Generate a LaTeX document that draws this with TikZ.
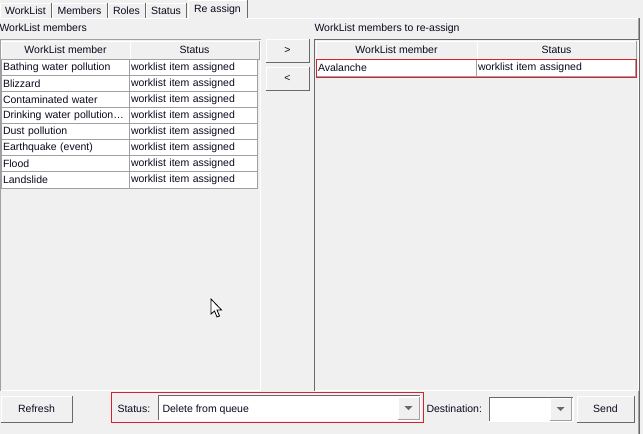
\documentclass[tikz,border=0pt]{standalone}
\usepackage{fontspec}
\setmainfont{Liberation Sans}
\usetikzlibrary{positioning}
\usepackage{xcolor}

\definecolor{winbg}{RGB}{240,240,240}
\definecolor{edgelight}{RGB}{160,160,160}
\definecolor{edgedeep}{RGB}{105,105,105}
\definecolor{gridgray}{RGB}{160,160,160}
\definecolor{selred}{RGB}{218,32,44}
\definecolor{guiink}{RGB}{10,10,30}

\newcommand{\guifont}{\fontsize{10.5}{12}\selectfont}
% bevel: top/left colour, then bottom/right colour
\newcommand{\bevel}[3]{%
	\draw[#2] (#1.south west) |- (#1.north east);
	\draw[#3] (#1.south west) -| (#1.north east);
}

\begin{document}
\begin{tikzpicture}[x=1pt, y=-1pt, line width=1pt,
	every node/.style={font=\guifont, text=guiink},
	guitext/.style={anchor=base west, inner sep=0pt},
	box/.style={anchor=north west, inner sep=0pt, minimum width=#1},
	panel/.style={box=#1, fill=winbg, minimum height=350pt},
	tab/.style={box=#1, fill=winbg, minimum height=15pt},
	hdcell/.style={box=#1, fill=winbg, minimum height=17pt},
	cell/.style={anchor=north west, draw=gridgray, fill=white, inner xsep=1.5pt,
		inner ysep=0pt, minimum height=17pt, text width=#1, align=left},
	btn/.style={box=#1, fill=winbg, minimum height=25pt},
	combo/.style={box=#1, fill=white, minimum height=24pt},
	arrowbtn/.style={box=20pt, fill=winbg, minimum height=21pt}]

	\useasboundingbox (0,0) rectangle (643,434);
	\fill[winbg] (0,0) rectangle (643,434);

	% tabs
	\node[tab=50pt] (tWork) at (0,3) {WorkList};
	\node[tab=54pt] (tMem) at (52,3) {Members};
	\node[tab=36pt] (tRole) at (108,3) {Roles};
	\node[tab=39pt] (tStat) at (146,3) {Status};
	\node[tab=58pt, minimum height=18pt] (tRe) at (188,0) {Re assign};
	\foreach \t in {tWork, tMem, tRole, tStat, tRe} {
		\draw[white] (\t.south west) |- (\t.north east);
		\draw[edgedeep] (\t.north east) -- (\t.south east);
	}
	\draw[white] (0,18.5) -- (188,18.5);
	\draw[white] (246,18.5) -- (639,18.5);
	\draw[edgelight] (638.5,18) -- (638.5,434);
	\draw[edgedeep] (639.5,18) -- (639.5,434);

	% left list
	\node[guitext] (leftTitle) at (-1,31) {WorkList members};
	\node[panel=259pt] (leftList) at (0.5,39.5) {};
	\bevel{leftList}{edgelight}{white}
	\node[hdcell=128pt] (hdMem) at (1,41) {WorkList member};
	\node[hdcell=128pt] (hdStat) at (130,41) {Status};
	\bevel{hdMem}{white}{edgelight}
	\bevel{hdStat}{white}{edgelight}
	\foreach \name [count=\i from 0] in {Bathing water pollution, Blizzard,
		Contaminated water, Drinking water pollution…, Dust pollution,
		Earthquake (event), Flood, Landslide} {
		\node[cell=125pt] (m\i) at (1,{59+16*\i}) {\name};
		\node[cell=125pt] (s\i) at (129,{59+16*\i}) {worklist item assigned};
	}

	% move buttons
	\node[btn=42pt, minimum height=22pt] (toRight) at (266,39) {>};
	\node[btn=42pt, minimum height=22pt] (toLeft) at (266,67) {<};
	\bevel{toRight}{white}{edgedeep}
	\bevel{toLeft}{white}{edgedeep}

	% right list
	\node[guitext] (rightTitle) at (314,31) {WorkList members to re-assign};
	\node[panel=323pt] (rightList) at (314.5,39.5) {};
	\bevel{rightList}{edgedeep}{white}
	\node[hdcell=160pt] (hdRMem) at (316,41) {WorkList member};
	\node[hdcell=158pt] (hdRStat) at (477,41) {Status};
	\bevel{hdRMem}{white}{edgelight}
	\bevel{hdRStat}{white}{edgelight}
	\node[cell=157pt] (rm0) at (316,59) {Avalanche};
	\node[cell=156pt] (rs0) at (476,59) {worklist item assigned};
	\draw[selred] (rm0.south west) rectangle (rs0.north east);

	% bottom bar
	\node[btn=70pt] (refreshBtn) at (1,396) {Refresh};
	\bevel{refreshBtn}{white}{edgedeep}

	\node[box=312pt, minimum height=30pt, draw=selred] (statusFrame) at (111,392) {};
	\node[guitext] (statusLbl) at (117,412) {Status:};
	\node[combo=261pt] (statusCombo) at (158,395) {};
	\bevel{statusCombo}{edgedeep}{white}
	\node[guitext] (statusVal) at (162,412) {Delete from queue};
	\node[arrowbtn] (statusArrow) at (398,397) {};
	\bevel{statusArrow}{white}{edgelight}
	\fill[edgedeep] ([xshift=-4pt, yshift=2pt]statusArrow.center) -- ++(8,0) -- ++(-4,4) -- cycle;

	\node[guitext] (destLbl) at (426,412) {Destination:};
	\node[combo=83pt, minimum height=23pt] (destCombo) at (489,397) {};
	\bevel{destCombo}{edgedeep}{white}
	\node[arrowbtn] (destArrow) at (550,398) {};
	\bevel{destArrow}{white}{edgelight}
	\fill[edgedeep] ([xshift=-4pt, yshift=2pt]destArrow.center) -- ++(8,0) -- ++(-4,4) -- cycle;

	\node[btn=56pt] (sendBtn) at (577,396) {Send};
	\bevel{sendBtn}{white}{edgedeep}

	% mouse pointer
	\filldraw[fill=white, draw=black, line width=0.8pt] (211,299) -- (211,314)
		-- (214.5,311) -- (217,317) -- (219.5,316) -- (217,310) -- (221.5,310) -- cycle;
\end{tikzpicture}
\end{document}
